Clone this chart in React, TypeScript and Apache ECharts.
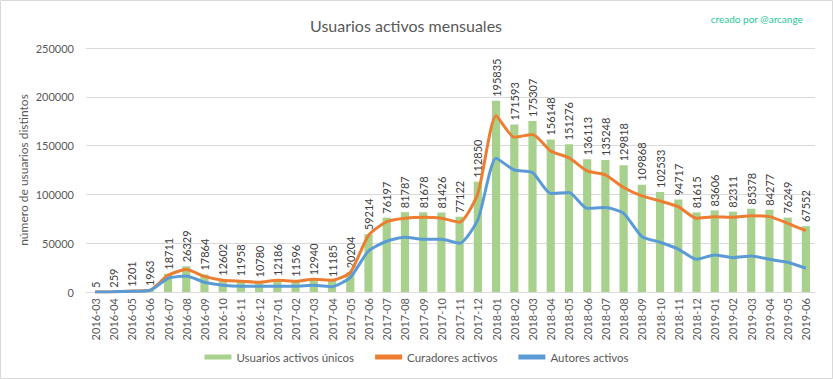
import React, { useEffect, useRef } from "react";
import * as echarts from "echarts";

const months = [
  "2016-03","2016-04","2016-05","2016-06","2016-07","2016-08","2016-09","2016-10","2016-11","2016-12",
  "2017-01","2017-02","2017-03","2017-04","2017-05","2017-06","2017-07","2017-08","2017-09","2017-10",
  "2017-11","2017-12","2018-01","2018-02","2018-03","2018-04","2018-05","2018-06","2018-07","2018-08",
  "2018-09","2018-10","2018-11","2018-12","2019-01","2019-02","2019-03","2019-04","2019-05","2019-06",
];

const usuariosUnicos = [
  5, 259, 1201, 1963, 18711, 26329, 17864, 12602, 11958, 10780,
  12186, 11596, 12940, 11185, 20204, 59214, 76197, 81787, 81678, 81426,
  77122, 112850, 195835, 171593, 175307, 156148, 151276, 136113, 135248, 129818,
  109868, 102533, 94717, 81615, 83606, 82311, 85378, 84277, 76249, 67552,
];

const curadores = [
  0, 200, 900, 1800, 17000, 23000, 16000, 12000, 11000, 10000,
  12000, 11000, 13000, 12000, 20000, 58000, 72000, 75500, 76500, 75500,
  71500, 101000, 180600, 158500, 161500, 144500, 137500, 124000, 120000, 107000,
  98400, 93200, 87400, 75500, 77200, 76500, 78200, 77200, 70400, 62800,
];

const autores = [
  0, 200, 800, 1500, 14000, 16500, 10000, 7000, 6000, 6000,
  6000, 6000, 7000, 5500, 15000, 42000, 52000, 56000, 54000, 54000,
  50000, 74000, 137000, 125000, 122500, 101000, 102000, 85700, 86500, 80600,
  56700, 51000, 44000, 33500, 38000, 35200, 36900, 33500, 30400, 24300,
];

const FONT = "Lato, 'Noto Sans', sans-serif";

export default function App() {
  const ref = useRef<HTMLDivElement>(null);
  useEffect(() => {
    document.body.style.margin = "0";
    const chart = echarts.init(ref.current!, null, { renderer: "svg" });
    chart.setOption({
      animation: false,
      backgroundColor: "#ffffff",
      textStyle: { fontFamily: FONT },
      title: [
        {
          text: "Usuarios activos mensuales",
          left: 305,
          top: 12,
          textStyle: { fontSize: 16, fontWeight: "normal", color: "#595959", fontFamily: FONT },
        },
        {
          text: "creado por @arcange",
          right: 25,
          top: 9,
          textStyle: { fontSize: 10, fontWeight: "normal", color: "#1fc79a", fontFamily: FONT },
        },
      ],
      graphic: [
        {
          type: "rect",
          shape: { x: 0.5, y: 0.5, width: 832, height: 378 },
          style: { fill: "none", stroke: "#d9d9d9", lineWidth: 1 },
          silent: true,
        },
      ],
      legend: {
        bottom: 11,
        left: "center",
        itemWidth: 27,
        itemHeight: 5,
        itemGap: 21,
        icon: "rect",
        textStyle: { fontSize: 11.5, color: "#595959", fontFamily: FONT },
        data: ["Usuarios activos únicos", "Curadores activos", "Autores activos"],
      },
      grid: { left: 86, right: 18, top: 48, bottom: 87 },
      xAxis: {
        type: "category",
        data: months,
        axisLine: { lineStyle: { color: "#d9d9d9" } },
        axisTick: { show: false },
        axisLabel: {
          rotate: 90,
          interval: 0,
          fontSize: 11,
          color: "#595959",
          margin: 6,
          fontFamily: FONT,
        },
      },
      yAxis: {
        type: "value",
        min: 0,
        max: 250000,
        interval: 50000,
        name: "número de usuarios distintos",
        nameLocation: "middle",
        nameGap: 57,
        nameMoveOverlap: false,
        nameTextStyle: { fontSize: 12, color: "#595959", fontFamily: FONT },
        axisLine: { show: false },
        axisTick: { show: false },
        axisLabel: {
          fontSize: 11,
          color: "#595959",
          margin: 12,
          fontFamily: FONT,
          formatter: (v: number) => String(v),
        },
        splitLine: { lineStyle: { color: "#d9d9d9" } },
      },
      series: [
        {
          name: "Usuarios activos únicos",
          type: "bar",
          data: usuariosUnicos,
          barWidth: "45%",
          itemStyle: { color: "#a9d18e" },
          label: {
            show: true,
            position: "top",
            rotate: 90,
            align: "left",
            verticalAlign: "middle",
            distance: 4,
            fontSize: 11,
            color: "#404040",
            fontFamily: FONT,
          },
        },
        {
          name: "Curadores activos",
          type: "line",
          data: curadores,
          smooth: 0.2,
          symbol: "none",
          lineStyle: { color: "#ed7d31", width: 3 },
          itemStyle: { color: "#ed7d31" },
        },
        {
          name: "Autores activos",
          type: "line",
          data: autores,
          smooth: 0.2,
          symbol: "none",
          lineStyle: { color: "#5b9bd5", width: 3 },
          itemStyle: { color: "#5b9bd5" },
        },
      ],
    });
    return () => chart.dispose();
  }, []);
  return <div ref={ref} style={{ width: 833, height: 379 }} />;
}
